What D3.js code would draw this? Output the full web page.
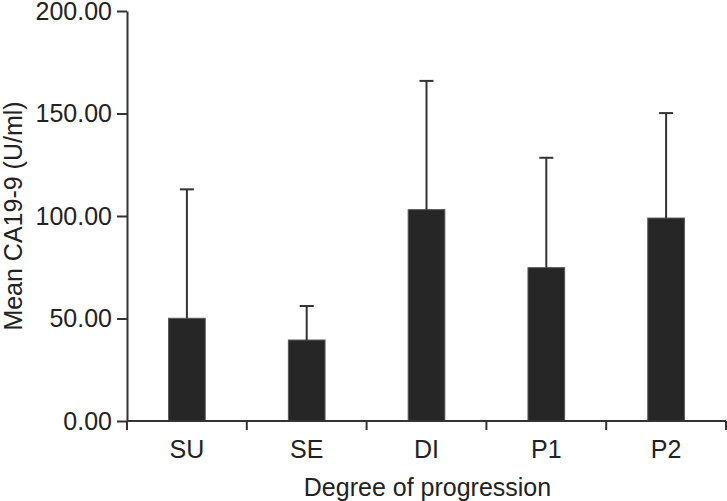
<!DOCTYPE html>
<html>
<head>
<meta charset="utf-8">
<script src="https://cdn.jsdelivr.net/npm/d3@7"></script>
<style>
  html, body { margin: 0; padding: 0; background: #fff; }
  svg { display: block; }
  text { font-family: "Liberation Sans", Arial, Helvetica, sans-serif; fill: #222; }
</style>
</head>
<body>
<svg id="chart" width="727" height="501"></svg>
<script>
const categories = ["SU", "SE", "DI", "P1", "P2"];
const means = [50.1, 39.5, 103.1, 74.8, 99.0];
const sds = [62.9, 16.6, 62.8, 53.6, 51.2];
const yTicks = [0, 50, 100, 150, 200];
const yLabel = "Mean CA19-9 (U/ml)";
const xLabel = "Degree of progression";

(function () {
const svg = d3.select("#chart");
const mLeft = 127, mRight = 726, mTop = 11, mBottom = 421;
const axisColor = "#333";
const fs = 25;

const x = d3.scaleBand().domain(categories).range([mLeft, mRight]).padding(0);
const y = d3.scaleLinear().domain([0, 200]).range([mBottom, mTop]);

const data = categories.map((c, i) => ({ c, m: means[i], sd: sds[i] }));
const barW = x.bandwidth() * 0.306;

// bars
svg.append("g").selectAll("rect").data(data).join("rect")
  .attr("x", d => x(d.c) + x.bandwidth() / 2 - barW / 2)
  .attr("y", d => y(d.m))
  .attr("width", barW)
  .attr("height", d => y(0) - y(d.m))
  .attr("fill", "#262626")
  .attr("stroke", "#555")
  .attr("stroke-width", 1);

// error bars (upper only)
const eb = svg.append("g").attr("stroke", axisColor).attr("stroke-width", 2);
eb.selectAll("line.v").data(data).join("line").attr("class", "v")
  .attr("x1", d => x(d.c) + x.bandwidth() / 2)
  .attr("x2", d => x(d.c) + x.bandwidth() / 2)
  .attr("y1", d => y(d.m))
  .attr("y2", d => y(d.m + d.sd));
eb.selectAll("line.cap").data(data).join("line").attr("class", "cap")
  .attr("x1", d => x(d.c) + x.bandwidth() / 2 - 7)
  .attr("x2", d => x(d.c) + x.bandwidth() / 2 + 7)
  .attr("y1", d => y(d.m + d.sd))
  .attr("y2", d => y(d.m + d.sd));

// y axis
const yAxis = svg.append("g").attr("transform", `translate(${mLeft},0)`)
  .call(d3.axisLeft(y).tickValues(yTicks).tickFormat(d3.format(".2f")).tickSize(10).tickPadding(5).tickSizeOuter(0));
yAxis.select(".domain").attr("stroke", axisColor).attr("stroke-width", 2);
yAxis.selectAll(".tick line").attr("stroke", axisColor).attr("stroke-width", 2);
yAxis.selectAll(".tick text").attr("font-size", fs).style("fill", "#222")
  .attr("font-family", "'Liberation Sans', Arial, sans-serif");

// x axis: ticks at band boundaries
const xg = svg.append("g");
xg.append("line").attr("x1", mLeft).attr("x2", mRight).attr("y1", mBottom).attr("y2", mBottom)
  .attr("stroke", axisColor).attr("stroke-width", 2);
const bounds = categories.map(c => x(c)).concat([x(categories[categories.length - 1]) + x.bandwidth()]);
xg.selectAll("line.t").data(bounds).join("line").attr("class", "t")
  .attr("x1", d => d).attr("x2", d => d)
  .attr("y1", mBottom).attr("y2", mBottom + 9)
  .attr("stroke", axisColor).attr("stroke-width", 2);
xg.selectAll("text").data(categories).join("text")
  .attr("x", d => x(d) + x.bandwidth() / 2)
  .attr("y", 458)
  .attr("text-anchor", "middle")
  .attr("font-size", fs)
  .text(d => d);

// axis titles
svg.append("text")
  .attr("x", (mLeft + mRight) / 2 + 1)
  .attr("y", 496)
  .attr("text-anchor", "middle")
  .attr("font-size", fs)
  .text(xLabel);

svg.append("text")
  .attr("transform", `translate(22,${(mTop + mBottom) / 2}) rotate(-90)`)
  .attr("text-anchor", "middle")
  .attr("font-size", fs)
  .text(yLabel);
})();
</script>
</body>
</html>
